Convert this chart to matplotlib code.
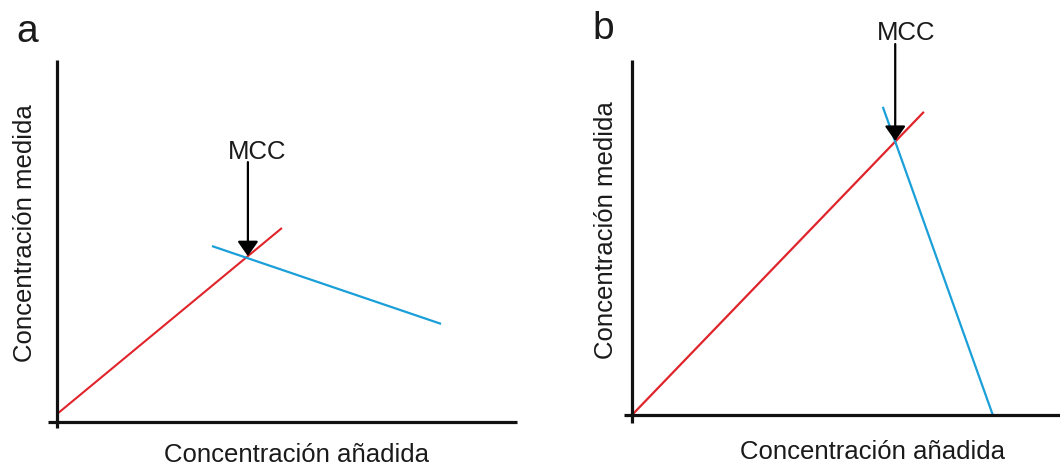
import matplotlib
matplotlib.use("Agg")
import matplotlib.pyplot as plt

plt.rcParams['font.family'] = ['Liberation Sans', 'DejaVu Sans']

# panel a (units: arbitrary concentration)
red_a_x = [0.0, 4.89]
red_a_y = [0.22, 5.36]
blue_a_x = [3.37, 8.35]
blue_a_y = [4.86, 2.71]
mcc_a = (4.15, 4.58)       # intersection
mcc_a_tail = 7.18
mcc_a_text = (4.35, 7.46)

# panel b
red_b_x = [0.0, 6.82]
red_b_y = [0.0, 8.54]
blue_b_x = [5.86, 8.43]
blue_b_y = [8.68, 0.0]
mcc_b = (6.15, 7.72)
mcc_b_tail = 10.45
mcc_b_text = (6.40, 10.76)

xlabel = "Concentración añadida"
ylabel = "Concentración medida"

RED = "#e0242b"
BLUE = "#1a9fd9"
W, H = 1060, 468

fig = plt.figure(figsize=(W / 100, H / 100), dpi=100)


def px_axes(left, right, top, bottom):
    return fig.add_axes([left / W, 1 - bottom / H, (right - left) / W, (bottom - top) / H])


def style(ax, xlim, ylim, xb, yb):
    ax.set_xlim(*xlim)
    ax.set_ylim(*ylim)
    ax.patch.set_alpha(0)
    for s in ['top', 'right']:
        ax.spines[s].set_visible(False)
    ax.spines['left'].set_position(('data', 0))
    ax.spines['bottom'].set_position(('data', 0))
    ax.spines['left'].set_bounds(*yb)
    ax.spines['bottom'].set_bounds(*xb)
    for s in ['left', 'bottom']:
        ax.spines[s].set_linewidth(2.3)
        ax.spines[s].set_color('#111111')
        ax.spines[s].set_capstyle('butt')
    ax.set_xticks([])
    ax.set_yticks([])


def mcc(ax, tip, tail, txt):
    ax.annotate('', xy=tip, xytext=(tip[0], tail),
                arrowprops=dict(arrowstyle='-|>,head_length=0.6,head_width=0.42',
                                mutation_scale=15, color='black', lw=1.6,
                                shrinkA=0, shrinkB=0))
    ax.text(txt[0], txt[1], 'MCC', fontsize=18.5, ha='center', va='center',
            color='#1a1a1a')


# panel a
ax1 = px_axes(40, 540, 40, 440)
style(ax1, ((40 - 57) / 46, (540 - 57) / 46), ((422 - 440) / 36.2, (422 - 40) / 36.2),
      (-0.2, 10.0), (-0.17, 10.0))
ax1.plot(red_a_x, red_a_y, color=RED, lw=1.5, solid_capstyle='butt')
ax1.plot(blue_a_x, blue_a_y, color=BLUE, lw=1.6, solid_capstyle='butt')
mcc(ax1, mcc_a, mcc_a_tail, mcc_a_text)

# panel b
ax2 = px_axes(615, 1060, 20, 440)
style(ax2, ((615 - 632) / 42.8, (1060 - 632) / 42.8), ((415 - 440) / 35.5, (415 - 20) / 35.5),
      (-0.19, 10.0), (-0.23, 10.0))
ax2.plot(red_b_x, red_b_y, color=RED, lw=1.6, solid_capstyle='butt')
ax2.plot(blue_b_x, blue_b_y, color=BLUE, lw=1.6, solid_capstyle='butt')
mcc(ax2, mcc_b, mcc_b_tail, mcc_b_text)

# labels
fig.text(27 / W, 1 - 32 / H, 'a', fontsize=28, ha='center', va='center', color='#1a1a1a')
fig.text(603 / W, 1 - 29 / H, 'b', fontsize=28, ha='center', va='center', color='#1a1a1a')
fig.text(296 / W, 1 - 455 / H, xlabel, fontsize=18.5, ha='center', va='center', color='#1a1a1a')
fig.text(873 / W, 1 - 452 / H, xlabel, fontsize=18.5, ha='center', va='center', color='#1a1a1a')
fig.text(25 / W, 1 - 233 / H, ylabel, fontsize=18.5, rotation=90, ha='center', va='center', color='#1a1a1a')
fig.text(606 / W, 1 - 230 / H, ylabel, fontsize=18.5, rotation=90, ha='center', va='center', color='#1a1a1a')

fig.savefig('out.png', dpi=100)
